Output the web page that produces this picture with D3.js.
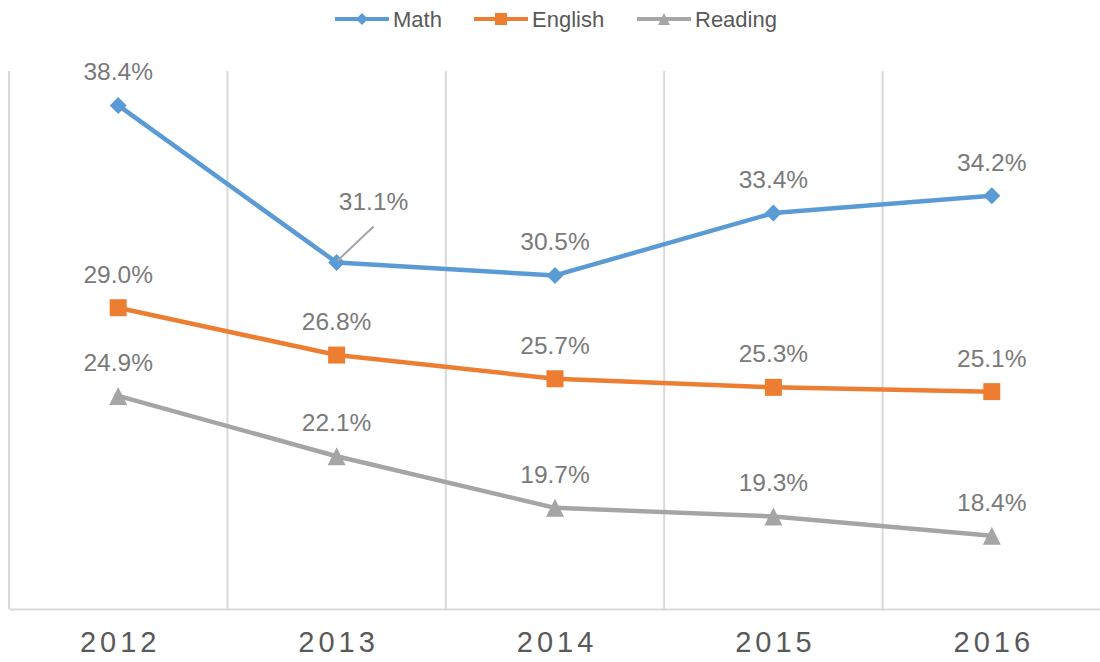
<!DOCTYPE html>
<html lang="en">
<head>
  <meta charset="UTF-8">
  <title>Math, English and Reading by year</title>
  <script src="https://d3js.org/d3.v7.min.js"></script>
  <style>
    body { margin: 0; background: #fff; }
    svg text { font-family: "Liberation Sans", Arial, sans-serif; }
  </style>
</head>
<body>
<div id="chart"></div>
<script>
var years = ["2012", "2013", "2014", "2015", "2016"];
var seriesNames = ["Math", "English", "Reading"];
var mathValues = [38.4, 31.1, 30.5, 33.4, 34.2];
var englishValues = [29.0, 26.8, 25.7, 25.3, 25.1];
var readingValues = [24.9, 22.1, 19.7, 19.3, 18.4];

var colors = ["#5B9BD5", "#ED7D31", "#A5A5A5"];
var shapes = ["diamond", "square", "triangle"];

var width = 1100, height = 662;
var plot = {left: 9, right: 1101, top: 71, bottom: 609};

var svg = d3.select("#chart").append("svg")
    .attr("width", width)
    .attr("height", height);

var x = d3.scaleBand()
    .domain(years)
    .range([plot.left, plot.right])
    .padding(0);

var y = d3.scaleLinear()
    .domain([15, 40])
    .range([plot.bottom, plot.top]);

var cx = function (d) { return x(d) + x.bandwidth() / 2; };

// vertical gridlines at category boundaries
svg.append("g")
  .selectAll("line")
  .data(years)
  .enter().append("line")
    .attr("x1", function (d) { return x(d); })
    .attr("x2", function (d) { return x(d); })
    .attr("y1", plot.top)
    .attr("y2", plot.bottom)
    .attr("stroke", "#d9d9d9")
    .attr("stroke-width", 2);

// bottom axis
var xAxis = svg.append("g")
    .attr("transform", "translate(0," + plot.bottom + ")")
    .call(d3.axisBottom(x).tickSize(0).tickPadding(22));
xAxis.select(".domain").attr("stroke", "#d9d9d9").attr("stroke-width", 2);
xAxis.selectAll("text")
    .attr("fill", "#595959")
    .style("font-size", "29px")
    .style("letter-spacing", "4px")
    .attr("dx", "2px");

function markerPath(shape, s) {
  var h = s / 2;
  if (shape === "diamond") return "M0," + (-h) + "L" + h + ",0L0," + h + "L" + (-h) + ",0Z";
  if (shape === "square") return "M" + (-h) + "," + (-h) + "H" + h + "V" + h + "H" + (-h) + "Z";
  return "M0," + (-h) + "L" + h + "," + h + "L" + (-h) + "," + h + "Z";
}

var series = [
  {name: seriesNames[0], values: mathValues},
  {name: seriesNames[1], values: englishValues},
  {name: seriesNames[2], values: readingValues}
];

var line = d3.line()
    .x(function (d, i) { return cx(years[i]); })
    .y(function (d) { return y(d); });

var markerSize = [17, 17, 18];

series.forEach(function (s, k) {
  var g = svg.append("g");
  g.append("path")
      .datum(s.values)
      .attr("d", line)
      .attr("fill", "none")
      .attr("stroke", colors[k])
      .attr("stroke-width", 4.5)
      .attr("stroke-linejoin", "round");
  g.selectAll("path.marker")
      .data(s.values)
      .enter().append("path")
      .attr("class", "marker")
      .attr("transform", function (d, i) { return "translate(" + cx(years[i]) + "," + y(d) + ")"; })
      .attr("d", markerPath(shapes[k], markerSize[k]))
      .attr("fill", colors[k]);
});

// data labels (Math 2013 label moved off the line with a leader)
var labelShift = {"0-1": [37, -53]};
series.forEach(function (s, k) {
  svg.append("g")
    .selectAll("text")
    .data(s.values)
    .enter().append("text")
      .attr("x", function (d, i) {
        var o = labelShift[k + "-" + i];
        return cx(years[i]) + (o ? o[0] : 0);
      })
      .attr("y", function (d, i) {
        var o = labelShift[k + "-" + i];
        return y(d) + (o ? o[1] : -25);
      })
      .attr("text-anchor", "middle")
      .attr("fill", "#7a7a7a")
      .style("font-size", "24.5px")
      .text(function (d) { return d.toFixed(1) + "%"; });
});

// leader line for the shifted label
svg.append("line")
    .attr("x1", cx(years[1]) + 1)
    .attr("y1", y(mathValues[1]) - 2)
    .attr("x2", cx(years[1]) + 37)
    .attr("y2", y(mathValues[1]) - 36)
    .attr("stroke", "#a5a5a5")
    .attr("stroke-width", 2);

// legend
var legendX = [335, 474, 637];
var legend = svg.append("g");
series.forEach(function (s, k) {
  var g = legend.append("g").attr("transform", "translate(" + legendX[k] + ",19)");
  g.append("line")
      .attr("x1", 0).attr("x2", 54)
      .attr("stroke", colors[k])
      .attr("stroke-width", 4);
  g.append("path")
      .attr("transform", "translate(27,0)")
      .attr("d", markerPath(shapes[k], 12))
      .attr("fill", colors[k]);
  g.append("text")
      .attr("x", 58)
      .attr("y", 8)
      .attr("fill", "#595959")
      .style("font-size", "22px")
      .text(s.name);
});
</script>
</body>
</html>
